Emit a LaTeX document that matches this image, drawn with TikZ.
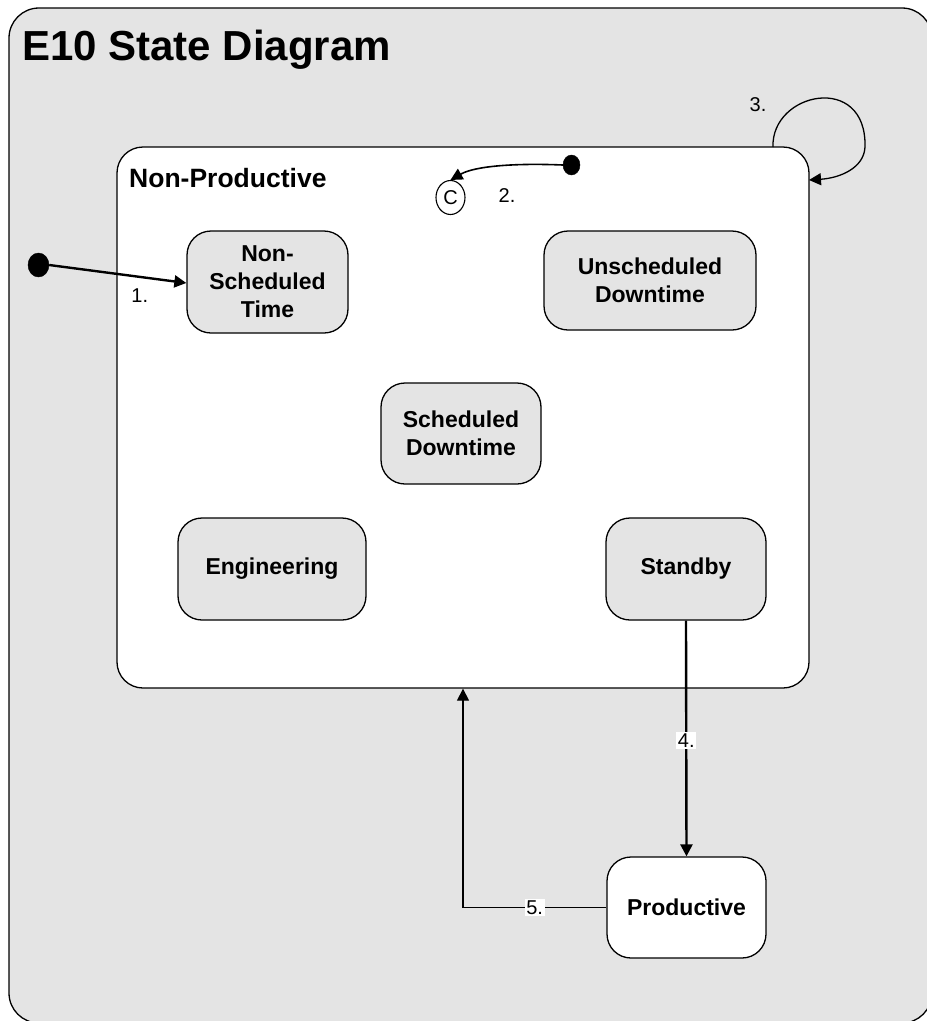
\documentclass[tikz,border=0pt]{standalone}
\usepackage{fontspec}
\setmainfont{Liberation Sans}
\usetikzlibrary{arrows.meta,shapes.geometric}
\definecolor{bggray}{HTML}{E4E4E4}
\begin{document}
\begin{tikzpicture}[x=1pt,y=-1pt,
  state/.style={draw=black, line width=1.3pt, rounded corners=24pt, fill=bggray, align=center,
    font=\fontsize{23}{28}\selectfont\bfseries, inner sep=0pt},
  dot/.style={ellipse, fill=black, draw=black, inner sep=0pt},
  lbl/.style={font=\fontsize{20}{24}\selectfont, inner sep=1.5pt},
  tip/.style={-{Triangle[length=12pt,width=12pt]}},
  thick arrow/.style={tip, line width=2.4pt},
  thin arrow/.style={tip, line width=1.3pt}
]
\useasboundingbox (0,0) rectangle (927,1021);
\clip (0,0) rectangle (927,1021);
% outer frame
\node[draw=black, fill=bggray, line width=1.3pt, rounded corners=30pt, minimum width=923pt, minimum height=1015pt, inner sep=0pt] (frame) at (470.5,515.5) {};
\node[anchor=base west, font=\fontsize{42}{50}\selectfont\bfseries, inner sep=0pt] (title) at (22,60) {E10 State Diagram};
% Non-Productive super-state
\node[draw=black, fill=white, line width=1.3pt, rounded corners=26pt, minimum width=692pt, minimum height=541pt, inner sep=0pt] (np) at (463,417.5) {};
\node[anchor=base west, font=\fontsize{26.5}{30}\selectfont\bfseries, inner sep=0pt] (nptitle) at (129,187) {Non-Productive};
% states
\node[state, minimum width=161pt, minimum height=102pt] (nst) at (267.5,282) {Non-\\Scheduled\\Time};
\node[state, minimum width=212pt, minimum height=99pt] (usd) at (650,280.5) {Unscheduled\\Downtime};
\node[state, minimum width=160pt, minimum height=101pt] (sd) at (461,433.5) {Scheduled\\Downtime};
\node[state, minimum width=188pt, minimum height=102pt] (eng) at (272,569) {Engineering};
\node[state, minimum width=160pt, minimum height=102pt] (stb) at (686,569) {Standby};
\node[state, fill=white, minimum width=159pt, minimum height=101pt] (prod) at (686.5,907.5) {Productive};
% initial dots
\node[dot, minimum width=21pt, minimum height=24pt] (d1) at (38.5,265) {};
\node[dot, minimum width=17pt, minimum height=20pt] (d2) at (571.5,165) {};
% C connector
\node[ellipse, draw=black, line width=1.1pt, fill=white, minimum width=29pt, minimum height=34pt, inner sep=0pt, font=\fontsize{20}{24}\selectfont] (c) at (450.5,197.5) {C};
% transitions
\draw[thick arrow] (d1.east) -- (nst.west |- 0,283) node[lbl, pos=0.66, below=9pt] (l1) {1.};
\draw[thin arrow, line width=1.6pt] (d2.west) .. controls (515,163) and (475,166) .. (c.north);
\node[lbl] (l2) at (507,196) {2.};
\coordinate (s3) at (773,147);
\coordinate (e3) at (809,180);
\draw[thin arrow] (s3) .. controls (771,92) and (867,72) .. (865,147) .. controls (864,168) and (840,178) .. (e3);
\node[lbl] (l3) at (758,105) {3.};
\draw[thick arrow] (stb.south) -- (prod.north) node[lbl, fill=white, pos=0.51] (l4) {4.};
\draw[thin arrow] (prod.west) -| (np.south) node[lbl, fill=white, pos=0.25] (l5) {5.};
\end{tikzpicture}
\end{document}
